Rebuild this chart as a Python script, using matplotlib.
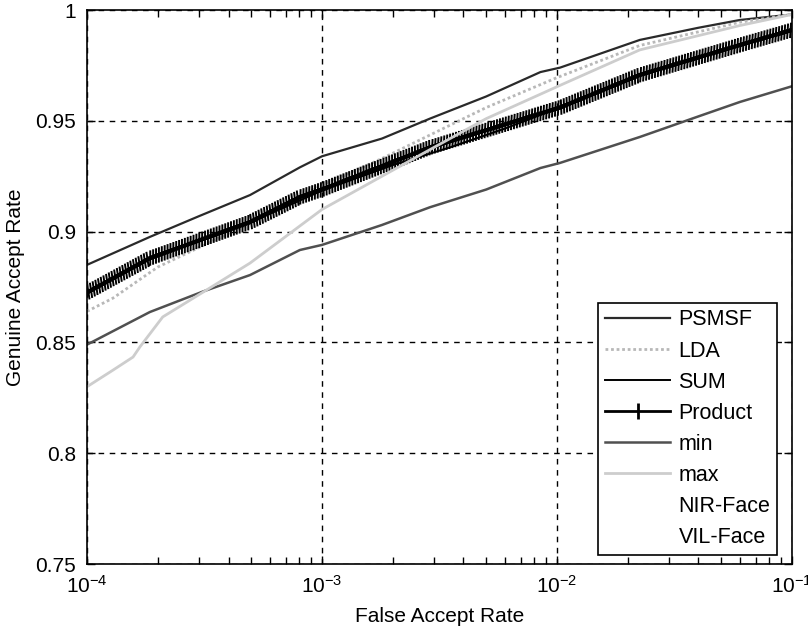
import matplotlib
matplotlib.use('Agg')
import matplotlib.pyplot as plt
from matplotlib import patheffects
from matplotlib.lines import Line2D
from matplotlib.ticker import LogLocator, NullFormatter

plt.rcParams['font.family'] = ['Liberation Sans', 'DejaVu Sans']
plt.rcParams['font.size'] = 15

# values (FAR, GAR)
psmsf_far = [1e-4, 1.85e-4, 3e-4, 4.94e-4, 8.05e-4, 1e-3, 1.8e-3, 2.88e-3, 5e-3, 8.5e-3, 1.03e-2, 2.25e-2, 4e-2, 6e-2, 1e-1]
psmsf_gar = [0.885, 0.8976, 0.907, 0.9165, 0.929, 0.934, 0.942, 0.951, 0.961, 0.972, 0.974, 0.9865, 0.992, 0.9955, 0.998]

lda_far = [1e-4, 1.29e-4, 2e-4, 5e-4, 1e-3, 1.8e-3, 2.88e-3, 5e-3, 1e-2, 2.25e-2, 6e-2, 1e-1]
lda_gar = [0.864, 0.870, 0.884, 0.904, 0.921, 0.933, 0.9436, 0.956, 0.9695, 0.984, 0.9945, 0.998]

sum_far = [1e-4, 1.85e-4, 4.94e-4, 1e-3, 2e-3, 3.5e-3, 6e-3, 1e-2, 2.25e-2, 6e-2, 1e-1]
sum_gar = [0.8725, 0.888, 0.904, 0.9185, 0.930, 0.938, 0.9465, 0.9555, 0.9705, 0.984, 0.9905]

prod_far = [1e-4, 1.85e-4, 4.94e-4, 8.05e-4, 1e-3, 2.88e-3, 1.03e-2, 2.25e-2, 6e-2, 1e-1]
prod_gar = [0.8725, 0.888, 0.9043, 0.9156, 0.919, 0.938, 0.956, 0.9707, 0.9842, 0.991]

min_far = [1e-4, 1.85e-4, 3.12e-4, 4.94e-4, 8.05e-4, 1e-3, 1.8e-3, 2.88e-3, 5e-3, 8.5e-3, 1.03e-2, 2.25e-2, 4e-2, 6e-2, 1e-1]
min_gar = [0.849, 0.8637, 0.873, 0.8804, 0.8917, 0.894, 0.903, 0.911, 0.919, 0.9287, 0.931, 0.9427, 0.952, 0.9585, 0.9656]

max_far = [1e-4, 1.29e-4, 1.57e-4, 1.68e-4, 2.1e-4, 3.12e-4, 4.94e-4, 1e-3, 1.8e-3, 2.88e-3, 5e-3, 1.03e-2, 2.25e-2, 6e-2, 1e-1]
max_gar = [0.830, 0.8375, 0.8434, 0.848, 0.8615, 0.8727, 0.8858, 0.910, 0.925, 0.937, 0.951, 0.966, 0.982, 0.993, 0.998]

yticks = [0.75, 0.8, 0.85, 0.9, 0.95, 1.0]
ytick_labels = ['0.75', '0.8', '0.85', '0.9', '0.95', '1']
labels = ['PSMSF', 'LDA', 'SUM', 'Product', 'min', 'max', 'NIR-Face', 'VIL-Face']

fig = plt.figure(figsize=(8.08, 6.34), dpi=100)
ax = fig.add_axes([0.1077, 0.1104, 0.8725, 0.8738])

h1, = ax.plot(psmsf_far, psmsf_gar, color='#2a2a2a', lw=1.6)
h2, = ax.plot(lda_far, lda_gar, color='#b8b8b8', lw=2, linestyle=(0, (1, 1)))
h3, = ax.plot(sum_far, sum_gar, color='black', lw=1.4)
ax.plot(prod_far, prod_gar, color='black', lw=2.8,
        path_effects=[patheffects.withTickedStroke(angle=70, spacing=2.2, length=2.2, linewidth=1.4),
                      patheffects.withTickedStroke(angle=-110, spacing=2.2, length=2.2, linewidth=1.4),
                      patheffects.Normal()])
h5, = ax.plot(min_far, min_gar, color='#505050', lw=1.8)
h6, = ax.plot(max_far, max_gar, color='#cdcdcd', lw=2)

h4 = Line2D([], [], color='black', lw=2, marker='|', markersize=12, mew=2)
h7 = Line2D([], [], linestyle='none')
h8 = Line2D([], [], linestyle='none')

ax.set_xscale('log')
ax.set_xlim(1e-4, 1e-1)
ax.set_ylim(0.75, 1.0)
ax.set_yticks(yticks)
ax.set_yticklabels(ytick_labels)
ax.xaxis.set_major_locator(LogLocator(base=10))
ax.xaxis.set_minor_locator(LogLocator(base=10, subs=range(2, 10)))
ax.xaxis.set_minor_formatter(NullFormatter())

ax.tick_params(which='both', direction='in', top=True, right=True, colors='black')
ax.tick_params(which='major', length=6, width=1, pad=8)
ax.tick_params(which='minor', length=5, width=1)
ax.grid(True, which='major', color='black', linestyle=(0, (4, 4)), lw=1)
for s in ax.spines.values():
    s.set_linewidth(1.2)

ax.set_xlabel('False Accept Rate', labelpad=7)
ax.set_ylabel('Genuine Accept Rate', labelpad=7)

leg = ax.legend([h1, h2, h3, h4, h5, h6, h7, h8], labels, loc='lower right',
                bbox_to_anchor=(0.979, 0.016), borderaxespad=0, fancybox=False,
                framealpha=1, edgecolor='black', handlelength=3.0, handletextpad=0.4,
                labelspacing=0.47, borderpad=0.32, fontsize=15.5)
leg.get_frame().set_linewidth(1.2)

fig.savefig('out.png', dpi=100)
